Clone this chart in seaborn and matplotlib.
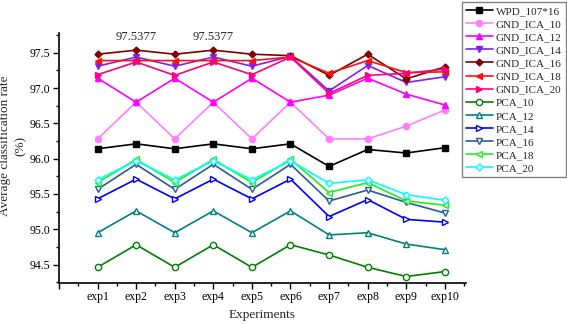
import matplotlib
matplotlib.use('Agg')
import matplotlib.pyplot as plt
import seaborn as sns
import pandas as pd

experiments = [f'exp{i}' for i in range(1, 11)]
exp_pos = list(range(1, 11))

wpd      = [96.14, 96.21, 96.14, 96.21, 96.14, 96.21, 95.89, 96.13, 96.08, 96.155]
gnd_10   = [96.28, 96.80, 96.28, 96.80, 96.28, 96.80, 96.28, 96.28, 96.46, 96.69]
gnd_12   = [97.14, 96.80, 97.14, 96.80, 97.14, 96.80, 96.90, 97.14, 96.915, 96.76]
gnd_14   = [97.31, 97.44, 97.31, 97.44, 97.31, 97.45, 96.96, 97.32, 97.08, 97.16]
gnd_16   = [97.48, 97.5377, 97.48, 97.5377, 97.48, 97.46, 97.18, 97.48, 97.13, 97.30]
gnd_18   = [97.39, 97.39, 97.39, 97.39, 97.39, 97.44, 97.21, 97.39, 97.22, 97.23]
gnd_20   = [97.19, 97.37, 97.18, 97.37, 97.19, 97.44, 96.925, 97.18, 97.21, 97.27]
pca_10   = [94.46, 94.78, 94.46, 94.78, 94.46, 94.78, 94.635, 94.46, 94.33, 94.40]
pca_12   = [94.95, 95.26, 94.95, 95.26, 94.95, 95.26, 94.92, 94.95, 94.79, 94.71]
pca_14   = [95.43, 95.71, 95.43, 95.71, 95.43, 95.71, 95.18, 95.42, 95.14, 95.10]
pca_16   = [95.565, 95.92, 95.565, 95.92, 95.565, 95.92, 95.40, 95.555, 95.38, 95.23]
pca_18   = [95.66, 95.99, 95.66, 95.99, 95.66, 95.99, 95.52, 95.66, 95.40, 95.34]
pca_20   = [95.70, 95.97, 95.70, 95.97, 95.70, 95.97, 95.65, 95.70, 95.49, 95.41]

series_names = ['WPD_107*16', 'GND_ICA_10', 'GND_ICA_12', 'GND_ICA_14', 'GND_ICA_16',
                'GND_ICA_18', 'GND_ICA_20', 'PCA_10', 'PCA_12', 'PCA_14', 'PCA_16',
                'PCA_18', 'PCA_20']
series_values = [wpd, gnd_10, gnd_12, gnd_14, gnd_16, gnd_18, gnd_20,
                 pca_10, pca_12, pca_14, pca_16, pca_18, pca_20]
peak_label = '97.5377'

# style per series: colour, marker, filled
styles = {
    'WPD_107*16': ('#000000', 's', True),
    'GND_ICA_10': ('#FF80FF', 'o', True),
    'GND_ICA_12': ('#FF00FF', '^', True),
    'GND_ICA_14': ('#8020F0', 'v', True),
    'GND_ICA_16': ('#800000', 'D', True),
    'GND_ICA_18': ('#FF1010', '<', True),
    'GND_ICA_20': ('#FF0080', '>', True),
    'PCA_10':     ('#008000', 'o', False),
    'PCA_12':     ('#008080', '^', False),
    'PCA_14':     ('#0000FF', '>', False),
    'PCA_16':     ('#2A5C96', 'v', False),
    'PCA_18':     ('#20F020', '<', False),
    'PCA_20':     ('#00FFFF', 'D', False),
}

rows = []
for name, vals in zip(series_names, series_values):
    for x, v in zip(exp_pos, vals):
        rows.append({'series': name, 'x': x, 'rate': v})
df = pd.DataFrame(rows)

sns.set_style('ticks')
plt.rcParams['font.family'] = ['Liberation Serif', 'DejaVu Serif']

fig = plt.figure(figsize=(5.67, 3.24), dpi=100)
ax = fig.add_axes([0.104, 0.127, 0.718, 0.771])

for name in series_names:
    color, marker, filled = styles[name]
    sub = df[df['series'] == name]
    ms = 3.5 if marker == 'D' else 4.5
    sns.lineplot(data=sub, x='x', y='rate', ax=ax, color=color, linewidth=1.2,
                 marker=marker, markersize=ms, markeredgecolor=color,
                 markeredgewidth=1.0,
                 markerfacecolor=color if filled else 'white',
                 label=name, legend=False)

# annotations for best values
for x, v in zip(exp_pos, gnd_16):
    if f'{v:.4f}' == peak_label:
        ax.annotate(peak_label, (x, v), xytext=(0, 5), textcoords='offset points',
                    ha='center', va='bottom', fontsize=9)

ax.set_xlim(0, 10.55)
ax.set_ylim(94.24, 97.78)
ax.set_xticks(range(0, 11))
ax.set_xticklabels([''] + experiments, fontsize=8.5)
ax.set_xticks([i + 0.5 for i in range(0, 11)], minor=True)
ax.set_yticks([94.5, 95.0, 95.5, 96.0, 96.5, 97.0, 97.5])
ax.set_yticklabels(['94.5', '95.0', '95.5', '96.0', '96.5', '97.0', '97.5'], fontsize=8.5)
ax.set_yticks([94.25 + 0.25 * i for i in range(15)], minor=True)
ax.tick_params(which='major', length=4, width=1, direction='out', colors='black', pad=2)
ax.tick_params(which='minor', length=2.5, width=1, direction='out', colors='black')
for side in ['top', 'right']:
    ax.spines[side].set_visible(False)
for side in ['left', 'bottom']:
    ax.spines[side].set_linewidth(1.2)
    ax.spines[side].set_color('black')

ax.set_xlabel('Experiments', fontsize=9.5, labelpad=4)
ax.set_ylabel('Average classification rate\n(%)', fontsize=9.5, linespacing=1.4)
ax.yaxis.set_label_coords(-0.08, 0.55)

handles, labels = ax.get_legend_handles_labels()
leg = fig.legend(handles, labels, loc='upper left', bbox_to_anchor=(0.815, 0.993),
                 fontsize=8, frameon=True, fancybox=False, edgecolor='#606060',
                 handlelength=2.4, labelspacing=0.3, borderpad=0.35,
                 handletextpad=0.3, borderaxespad=0, numpoints=1)
leg.get_frame().set_linewidth(1.0)

fig.savefig('out.png', dpi=100)
